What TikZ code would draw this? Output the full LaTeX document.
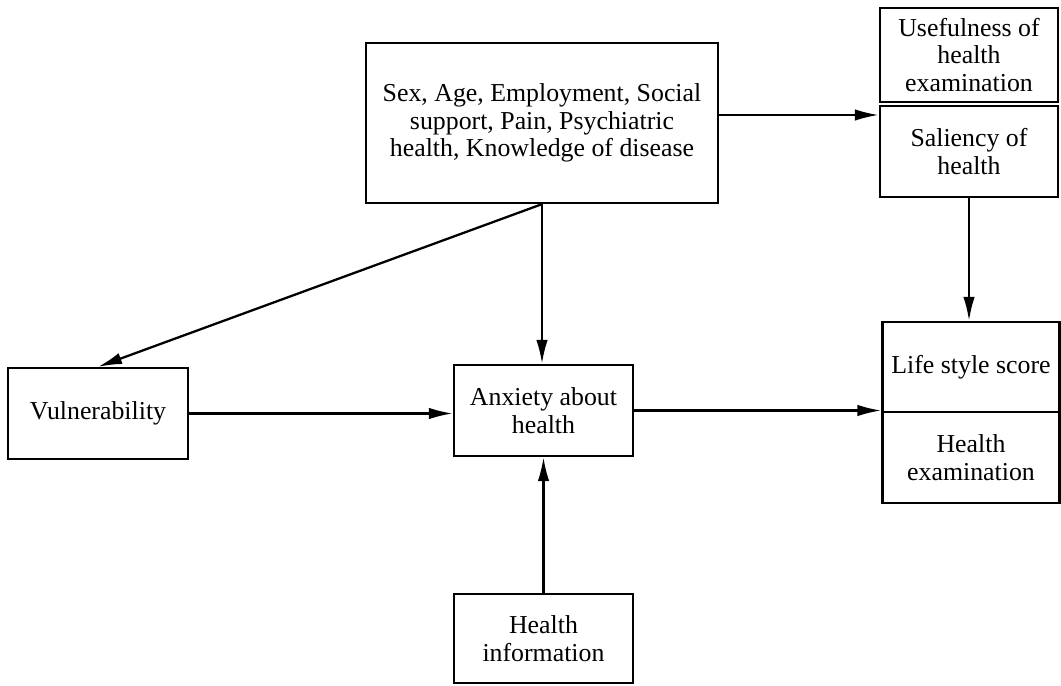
\documentclass[tikz,border=0pt]{standalone}
\usepackage{fontspec}
\setmainfont{Liberation Serif}
\usepackage{tikz}
\usetikzlibrary{arrows.meta,positioning}

\begin{document}
\begin{tikzpicture}[line width=1.3pt]
\tikzstyle{box} = [draw, rectangle, align=center, inner sep=0pt, font=\fontsize{14.7}{15.6}\selectfont]
\tikzstyle{arr} = [-{Latex[length=4.8mm,width=2.3mm]}]
\useasboundingbox (0,0) rectangle (21.22,-13.72);
\node[box, minimum width=7.04cm, minimum height=3.2cm] (sex) at (10.84,-2.46)
	{Sex, Age, Employment, Social\\support, Pain, Psychiatric\\health, Knowledge of disease};
\node[box, minimum width=3.56cm, minimum height=1.88cm] (use) at (19.38,-1.10)
	{Usefulness of\\health\\examination};
\node[box, minimum width=3.56cm, minimum height=1.82cm] (sal) at (19.38,-3.03)
	{Saliency of\\health};
\node[box, minimum width=3.54cm, minimum height=1.80cm] (life) at (19.42,-7.34)
	{Life style score};
\node[box, minimum width=3.54cm, minimum height=1.82cm] (exam) at (19.42,-9.15)
	{Health\\examination};
\node[box, minimum width=3.60cm, minimum height=1.82cm] (vul) at (1.96,-8.27)
	{Vulnerability};
\node[box, minimum width=3.58cm, minimum height=1.82cm] (anx) at (10.87,-8.21)
	{Anxiety about\\health};
\node[box, minimum width=3.58cm, minimum height=1.78cm] (info) at (10.87,-12.77)
	{Health\\information};
\draw[arr] (sex.south) -- (vul.north);
\draw[arr] (sex.south) -- (sex.south |- anx.north);
\draw[arr] ([yshift=0.16cm]sex.east) -- ([yshift=0.16cm]sex.east -| sal.west);
\draw[arr] (sal.south) -- (sal.south |- life.north);
\draw[arr] (vul.east) -- (vul.east -| anx.west);
\draw[arr] (anx.east) -- (anx.east -| life.south west);
\draw[arr] (info.north) -- (anx.south);
\end{tikzpicture}
\end{document}
